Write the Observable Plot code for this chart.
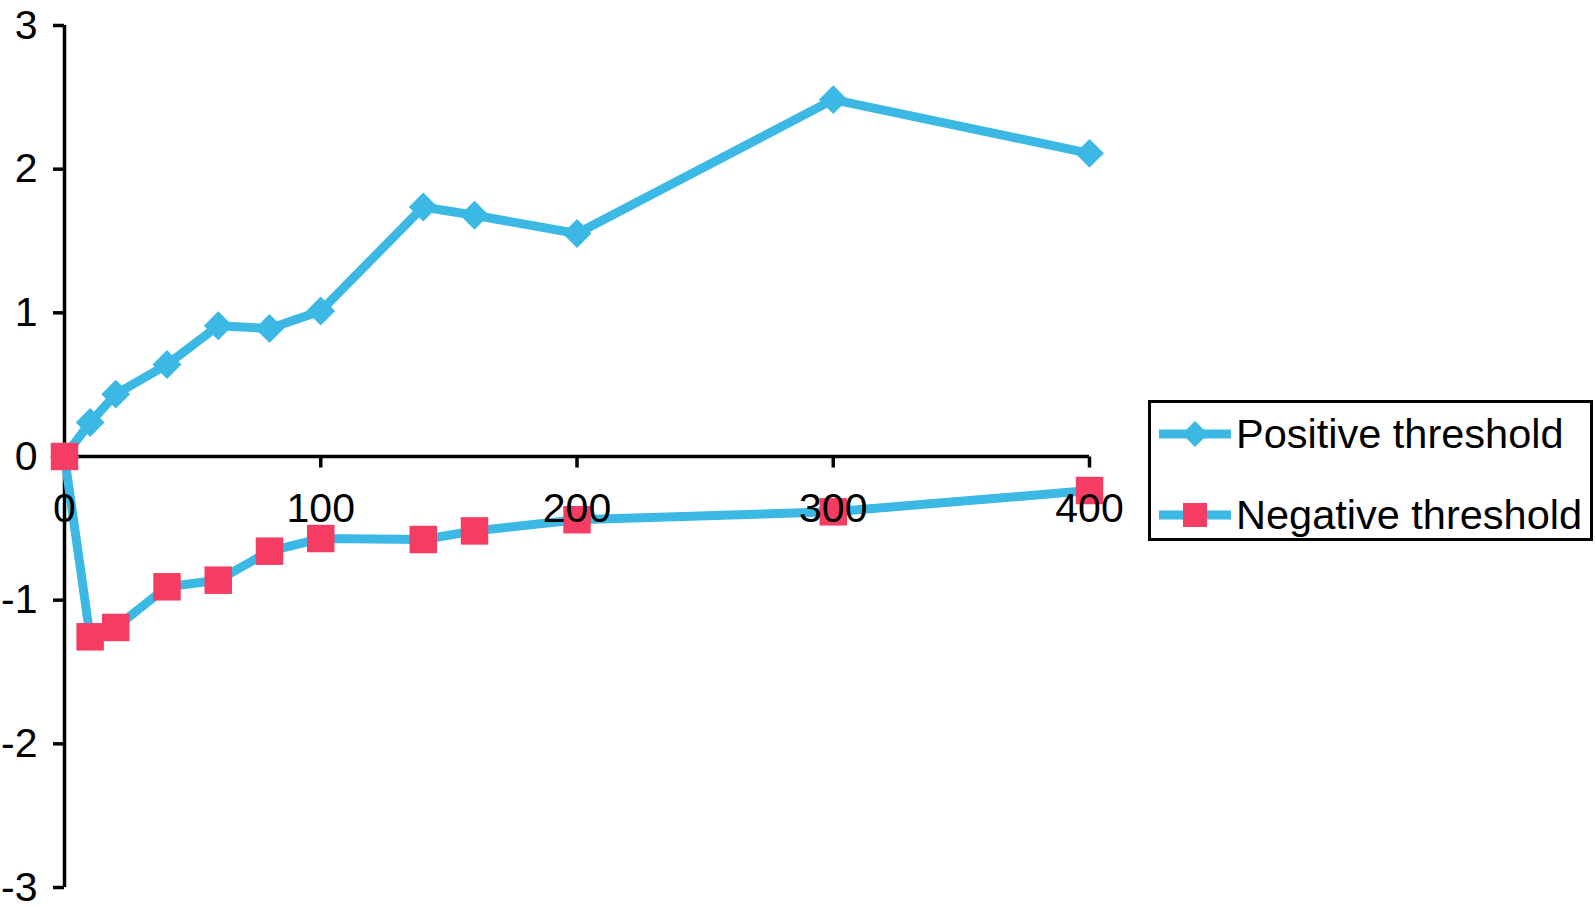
<!DOCTYPE html>
<html>
<head>
<meta charset="utf-8">
<script src="https://cdn.jsdelivr.net/npm/d3@7"></script>
<script src="https://cdn.jsdelivr.net/npm/@observablehq/plot@0.6"></script>
<style>
  html, body { margin: 0; padding: 0; background: #fff; }
  body { font-family: "Liberation Sans", Arial, Helvetica, sans-serif; }
  #wrap { display: flex; align-items: flex-start; width: 1595px; height: 907px; }
  #legend {
    margin-top: 400px; margin-left: 8px; box-sizing: border-box;
    width: 445px; height: 141px; border: 3px solid #000; position: relative;
  }
  .row { position: absolute; left: 8px; display: flex; align-items: center; height: 50px; }
  .row span { font-size: 41.5px; color: #000; margin-left: 5px; white-space: nowrap; }
</style>
</head>
<body>
<div id="wrap"><div id="chart"></div><div id="legend"></div></div>
<script>
// ---- data ----
const xValues = [0, 10, 20, 40, 60, 80, 100, 140, 160, 200, 300, 400];
const positiveThreshold = [0, 0.237, 0.434, 0.640, 0.910, 0.891, 1.013, 1.737, 1.679, 1.552, 2.484, 2.110];
const negativeThreshold = [0, -1.255, -1.190, -0.907, -0.861, -0.659, -0.571, -0.578, -0.518, -0.440, -0.385, -0.237];
const seriesNames = ["Positive threshold", "Negative threshold"];
const xTicks = [0, 100, 200, 300, 400];
const yTicks = [-3, -2, -1, 0, 1, 2, 3];

const lineColor = "#3cb8e5";
const squareColor = "#f53c63";

const pos = xValues.map((x, i) => ({x, y: positiveThreshold[i]}));
const neg = xValues.map((x, i) => ({x, y: negativeThreshold[i]}));

const tickDown = { draw(ctx) { ctx.moveTo(0, 0); ctx.lineTo(0, 11); } };

const chart = Plot.plot({
  width: 1140,
  height: 907,
  marginLeft: 64,
  marginRight: 51,
  marginTop: 25,
  marginBottom: 20,
  style: { fontFamily: '"Liberation Sans", Arial, sans-serif', color: "#000", background: "#fff", overflow: "visible" },
  x: { domain: [0, 400], axis: null },
  y: { domain: [-3, 3], axis: null },
  marks: [
    Plot.axisY({ ticks: yTicks, tickFormat: d => String(d), tickSize: 11, tickPadding: 16, fontSize: 41, strokeWidth: 3.5, label: null, stroke: "#000", fill: "#000" }),
    Plot.ruleX([0], { y1: -3, y2: 3, stroke: "#000", strokeWidth: 3.5 }),
    Plot.ruleY([0], { x1: 0, x2: 400, stroke: "#000", strokeWidth: 3.5 }),
    Plot.dot(xTicks.slice(1), { x: d => d, y: 0, symbol: tickDown, stroke: "#000", strokeWidth: 3.5, fill: "none" }),
    Plot.line(pos, { x: "x", y: "y", stroke: lineColor, strokeWidth: 9 }),
    Plot.line(neg, { x: "x", y: "y", stroke: lineColor, strokeWidth: 9 }),
    Plot.dot(pos, { x: "x", y: "y", symbol: "diamond2", r: 13, fill: lineColor, stroke: "none" }),
    Plot.dot(neg, { x: "x", y: "y", symbol: "square", r: 15.5, fill: squareColor, stroke: "none" }),
    Plot.text(xTicks, { x: d => d, y: 0, text: d => String(d), dy: 52, fontSize: 41, fill: "#000" })
  ]
});
document.getElementById("chart").appendChild(chart);

// legend
const legend = document.getElementById("legend");
const markers = [
  `<path d="M36,11 L49,24 L36,37 L23,24 Z" fill="${lineColor}"/>`,
  `<rect x="24" y="12" width="24" height="24" fill="${squareColor}"/>`
];
const rowTops = [6, 87];
seriesNames.forEach((name, i) => {
  const row = document.createElement("div");
  row.className = "row";
  row.style.top = rowTops[i] + "px";
  row.innerHTML = `<svg width="72" height="48" viewBox="0 0 72 48"><line x1="0" y1="24" x2="72" y2="24" stroke="${lineColor}" stroke-width="9" stroke-linecap="round"/>${markers[i]}</svg><span>${name}</span>`;
  legend.appendChild(row);
});
</script>
</body>
</html>
